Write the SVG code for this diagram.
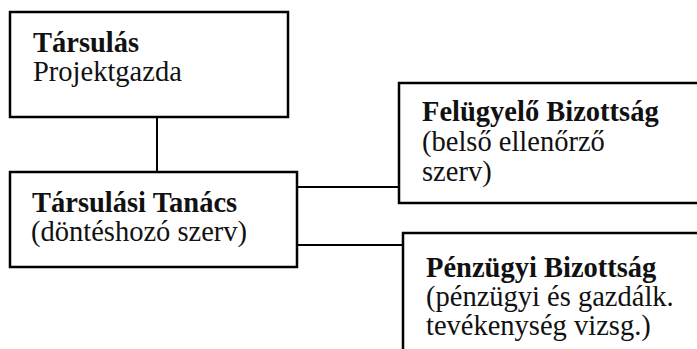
<svg xmlns="http://www.w3.org/2000/svg" width="697" height="349" viewBox="0 0 697 349">
<style>
.box{fill:#fff;stroke:#000;stroke-width:2.5}
.conn{stroke:#000;stroke-width:2;fill:none}
</style>
<rect width="697" height="349" fill="#fff"/>
<g id="connectors">
<line class="conn" x1="157" y1="117" x2="157" y2="172"/>
<line class="conn" x1="297" y1="187" x2="399" y2="187"/>
<line class="conn" x1="297" y1="245" x2="403" y2="245"/>
</g>
<g id="tarsulas" font-family="Liberation Serif, Times New Roman, serif" font-size="28.5" fill="#111">
<rect class="box" x="10" y="12" width="278" height="105"/>
<text x="33" y="52" font-weight="bold">Társulás</text>
<text x="33" y="81">Projektgazda</text>
</g>
<g id="tanacs" font-family="Liberation Serif, Times New Roman, serif" font-size="28.5" fill="#111">
<rect class="box" x="10" y="172" width="287" height="95"/>
<text x="32" y="212" font-weight="bold">Társulási Tanács</text>
<text x="31" y="241">(döntéshozó szerv)</text>
</g>
<g id="felugyelo" font-family="Liberation Serif, Times New Roman, serif" font-size="28.5" fill="#111">
<rect class="box" x="399" y="83" width="310" height="120"/>
<text x="422" y="121" font-weight="bold">Felügyelő Bizottság</text>
<text x="422" y="151">(belső ellenőrző</text>
<text x="422" y="181">szerv)</text>
</g>
<g id="penzugyi" font-family="Liberation Serif, Times New Roman, serif" font-size="28.5" fill="#111">
<rect class="box" x="403" y="233" width="310" height="130"/>
<text x="426" y="277" font-weight="bold">Pénzügyi Bizottság</text>
<text x="426" y="306">(pénzügyi és gazdálk.</text>
<text x="426" y="335">tevékenység vizsg.)</text>
</g>
</svg>
